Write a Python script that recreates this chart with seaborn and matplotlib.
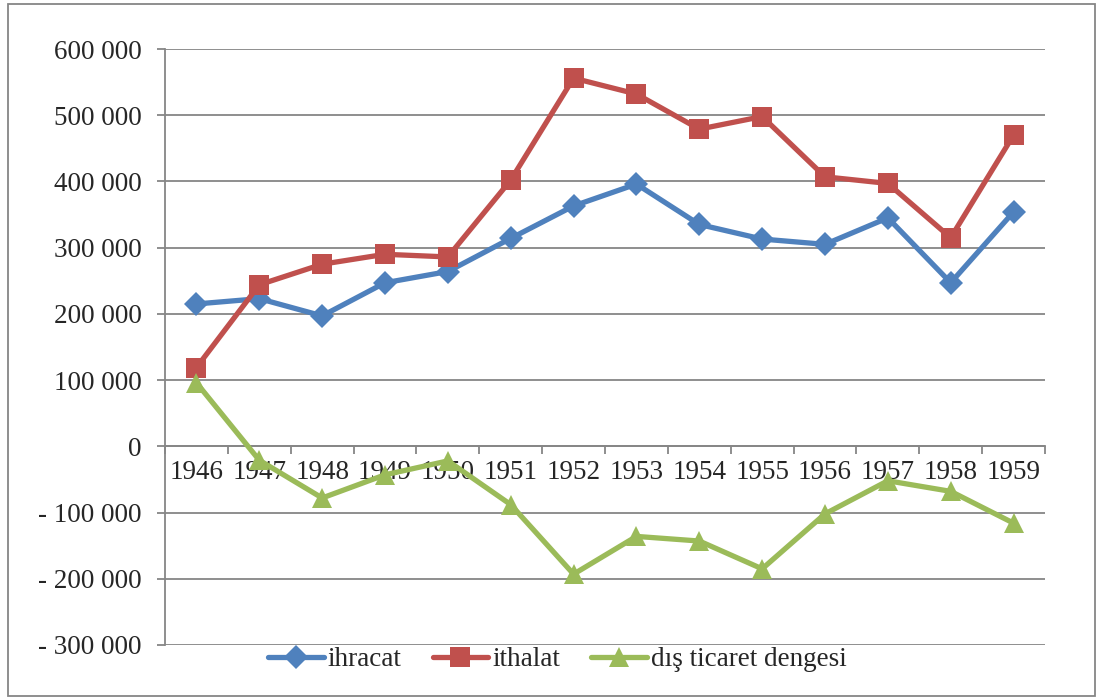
import numpy as np
import pandas as pd
import matplotlib
matplotlib.use("Agg")
import matplotlib.pyplot as plt
import seaborn as sns
from matplotlib.ticker import FuncFormatter, FixedLocator
from matplotlib.patches import Rectangle

# data (1000 units)
years = [1946, 1947, 1948, 1949, 1950, 1951, 1952, 1953, 1954, 1955, 1956, 1957, 1958, 1959]
ihracat = [215000, 223000, 197000, 247000, 264000, 314000, 363000, 396000, 335000, 313000, 305000, 345000, 247000, 354000]
ithalat = [119000, 244000, 275000, 290000, 286000, 402000, 556000, 532000, 479000, 498000, 407000, 397000, 315000, 470000]
denge = [96000, -21000, -78000, -43000, -22000, -88000, -193000, -136000, -143000, -185000, -102000, -52000, -68000, -116000]

series_names = ["ihracat", "ithalat", "dış ticaret dengesi"]
colors = ["#4F81BD", "#C0504D", "#9BBB59"]
markers = ["D", "s", "^"]
msizes = [12, 14, 14]

df = pd.DataFrame({"Yil": years * 3,
                   "Deger": ihracat + ithalat + denge,
                   "Seri": sum([[n] * len(years) for n in series_names], [])})

sns.set_style("white")
plt.rcParams["font.family"] = ["Liberation Serif", "DejaVu Serif"]

fig = plt.figure(figsize=(10.97, 6.98), dpi=100)
ax = fig.add_axes([165 / 1097, 1 - 645 / 698, (1045 - 165) / 1097, (645 - 49) / 698])

for name, col, mk, ms in zip(series_names, colors, markers, msizes):
    sns.lineplot(data=df[df["Seri"] == name], x="Yil", y="Deger", ax=ax,
                 color=col, marker=mk, markersize=ms, markeredgewidth=0,
                 linewidth=3.8, label=name, zorder=3)

grid_col = "#868686"
ax.set_ylim(-300000, 600000)
ax.set_xlim(years[0] - 0.5, years[-1] + 0.5)
ax.set_yticks(np.arange(-300000, 600001, 100000))
ax.yaxis.grid(True, color=grid_col, linewidth=1.3)
ax.xaxis.grid(False)
ax.set_axisbelow(True)


def fmt(v, pos):
    s = "{:,}".format(int(abs(v))).replace(",", " ")
    return "- " + s if v < 0 else s


ax.yaxis.set_major_formatter(FuncFormatter(fmt))
ax.tick_params(axis="y", which="major", length=6, width=1.3, color=grid_col,
               direction="out", pad=11, labelsize=19.5, left=True)

# category axis sitting on zero
ax.spines["bottom"].set_position(("data", 0))
ax.spines["bottom"].set_color(grid_col)
ax.spines["bottom"].set_linewidth(1.3)
ax.spines["left"].set_color(grid_col)
ax.spines["left"].set_linewidth(1.3)
ax.spines["top"].set_visible(False)
ax.spines["right"].set_visible(False)
ax.set_xticks(years)
ax.set_xticklabels([str(y) for y in years])
ax.xaxis.set_minor_locator(FixedLocator(np.arange(years[0] - 0.5, years[-1] + 1, 1.0)))
ax.tick_params(axis="x", which="major", length=0, pad=10, labelsize=19.5)
ax.tick_params(axis="x", which="minor", length=6, width=1.3, color=grid_col,
               direction="out", bottom=True)
ax.set_xlabel("")
ax.set_ylabel("")

ax.get_legend().remove()
handles, labels = ax.get_legend_handles_labels()
fig.legend(handles, labels, loc="center", bbox_to_anchor=(0.508, 1 - 660 / 698),
           ncol=3, frameon=False, fontsize=19.5, handlelength=2.05,
           handletextpad=0.15, columnspacing=1.15, borderaxespad=0)

# outer chart border
fig.patches.append(Rectangle((8 / 1097, 2 / 698), 1087 / 1097, 692 / 698,
                             transform=fig.transFigure, fill=False,
                             edgecolor=grid_col, linewidth=1.3))

fig.savefig("out.png", dpi=100)
